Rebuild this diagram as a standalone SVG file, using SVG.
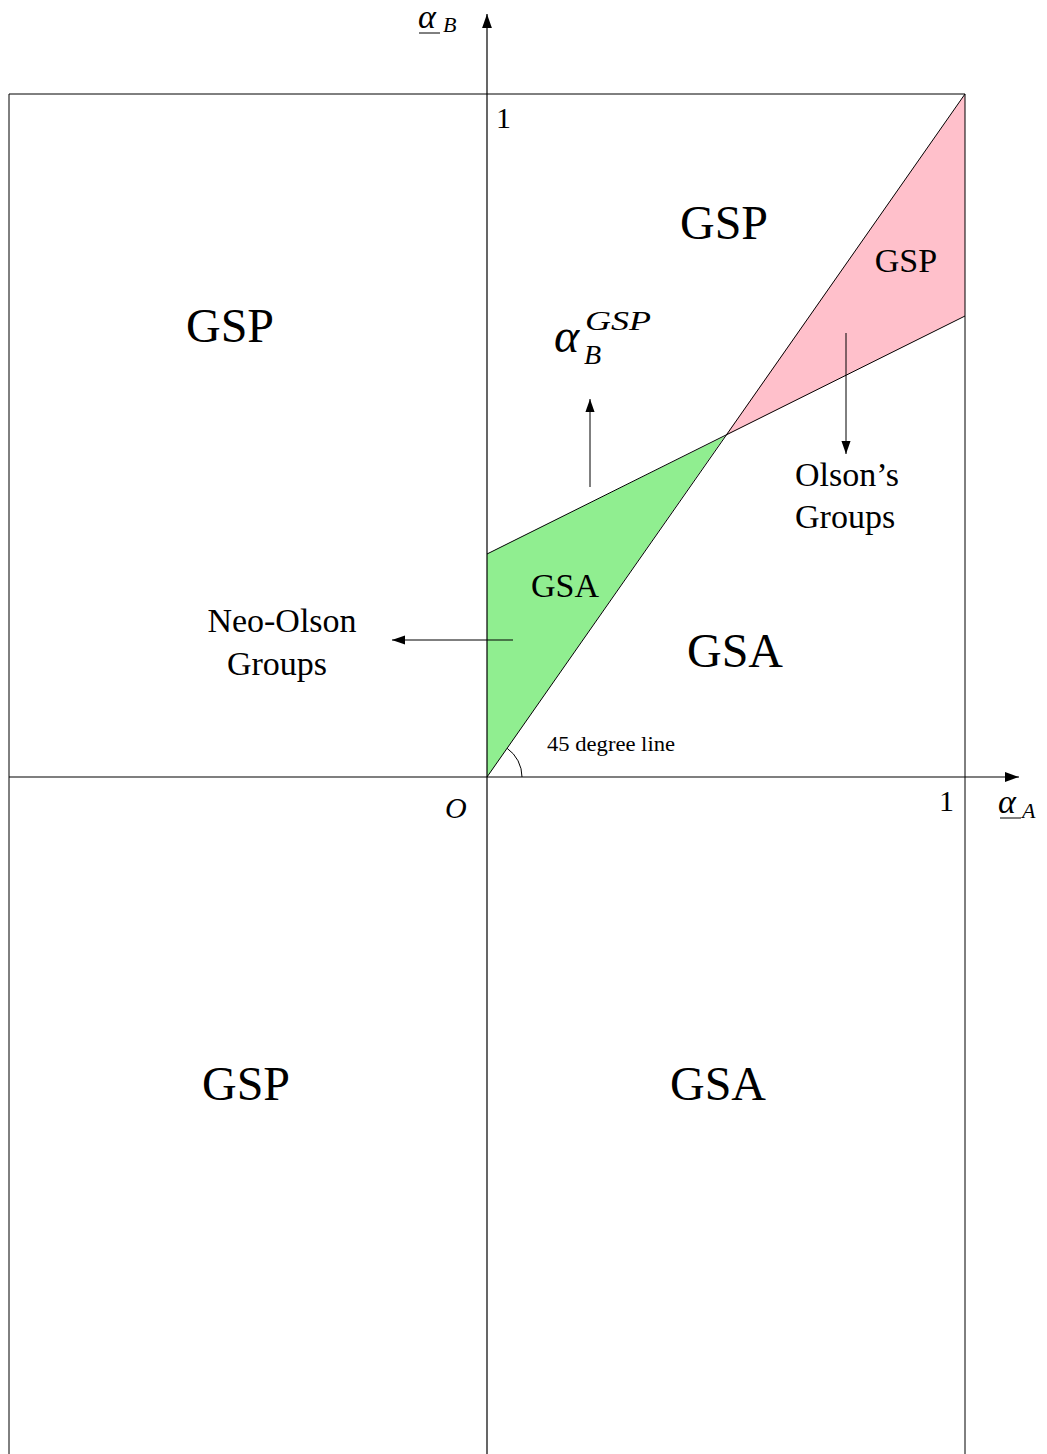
<svg xmlns="http://www.w3.org/2000/svg" width="1047" height="1454" viewBox="0 0 1047 1454">
<style>
text{font-family:"Liberation Serif","DejaVu Serif",serif;fill:#000}
.big{font-size:48px;text-anchor:middle}
.mid{font-size:34px}
.ln{stroke:#000;stroke-width:1;fill:none}
.ax{stroke:#000;stroke-width:1.2;fill:none}
.it{font-style:italic}
</style>
<defs>
<marker id="ah" viewBox="0 0 10 10" refX="10" refY="5" markerWidth="13" markerHeight="13" markerUnits="userSpaceOnUse" orient="auto"><path d="M0,1.5 L10,5 L0,8.5 Z" fill="#000"/></marker>
<marker id="ah2" viewBox="0 0 10 10" refX="10" refY="5" markerWidth="14" markerHeight="14" markerUnits="userSpaceOnUse" orient="auto"><path d="M0,1.5 L10,5 L0,8.5 Z" fill="#000"/></marker>
</defs>
<g id="regions">
<polygon id="green" points="487,777 487,554 725,436" fill="#90ee90"/>
<polygon id="pink" points="725,436 965,94 965,316" fill="#ffc0cb"/>
</g>
<g id="frame">
<line class="ln" x1="9" y1="94" x2="965" y2="94"/>
<line class="ln" x1="9" y1="94" x2="9" y2="1454"/>
<line class="ln" x1="965" y1="94" x2="965" y2="1454"/>
</g>
<g id="connectors">
<line class="ax" x1="487" y1="1454" x2="487" y2="14" marker-end="url(#ah2)"/>
<line class="ax" x1="9" y1="777" x2="1019" y2="777" marker-end="url(#ah2)"/>
<line class="ln" x1="487" y1="777" x2="965" y2="94"/>
<line class="ln" x1="487" y1="554" x2="965" y2="316"/>
<path class="ln" d="M507.1,748.3 A35,35 0 0 1 522,777"/>
<line class="ln" x1="590" y1="487" x2="590" y2="399" marker-end="url(#ah)"/>
<line class="ln" x1="846" y1="333" x2="846" y2="454" marker-end="url(#ah)"/>
<line class="ln" x1="513" y1="640" x2="392" y2="640" marker-end="url(#ah)"/>
</g>
<g id="labels">
<text class="big" x="230" y="342">GSP</text>
<text class="big" x="724" y="239">GSP</text>
<text class="big" x="735" y="667">GSA</text>
<text class="big" x="246" y="1100">GSP</text>
<text class="big" x="718" y="1100">GSA</text>
<text class="mid" x="906" y="272" text-anchor="middle">GSP</text>
<text class="mid" x="565" y="597" text-anchor="middle">GSA</text>
<text class="mid" x="282" y="632" text-anchor="middle">Neo-Olson</text>
<text class="mid" x="277" y="675" text-anchor="middle">Groups</text>
<text class="mid" x="795" y="486">Olson’s</text>
<text class="mid" x="795" y="528">Groups</text>
<text x="547" y="751" font-size="20" textLength="128" lengthAdjust="spacingAndGlyphs">45 degree line</text>
<text class="it" x="445" y="818" font-size="30">O</text>
<text x="496" y="128" font-size="30">1</text>
<text x="939" y="811" font-size="30">1</text>
<g id="alphaB">
<text class="it" x="418" y="28" font-size="34">α</text>
<line class="ln" x1="419" y1="33" x2="440" y2="33"/>
<text class="it" x="443" y="32" font-size="22">B</text>
</g>
<g id="alphaA">
<text class="it" x="998" y="813" font-size="34">α</text>
<line class="ln" x1="1000" y1="818" x2="1021" y2="818"/>
<text class="it" x="1022" y="818" font-size="22">A</text>
</g>
<g id="alphaGSP">
<text class="it" x="554" y="352" font-size="48">α</text>
<text class="it" x="585" y="330" font-size="28" textLength="66" lengthAdjust="spacingAndGlyphs">GSP</text>
<text class="it" x="584" y="364" font-size="28">B</text>
</g>
</g>
</svg>
